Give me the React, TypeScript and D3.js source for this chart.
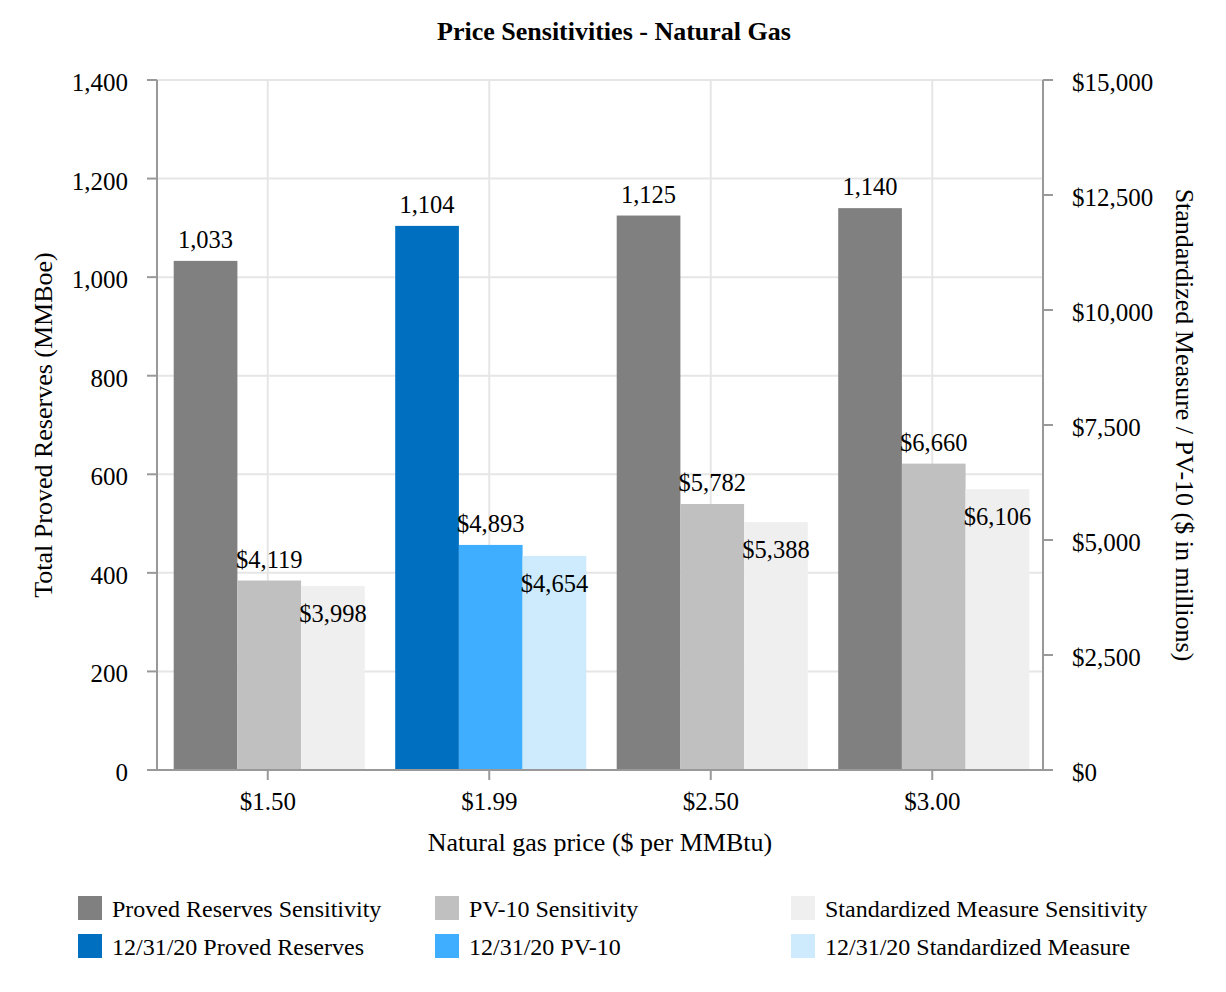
import React from "react";
import * as d3 from "d3";

const categories = ["$1.50", "$1.99", "$2.50", "$3.00"];
const provedReserves = [1033, 1104, 1125, 1140];
const pv10 = [4119, 4893, 5782, 6660];
const standardized = [3998, 4654, 5388, 6106];
const currentIndex = 1; // the 12/31/20 case
const leftTicks = [0, 200, 400, 600, 800, 1000, 1200, 1400];
const rightTicks = [0, 2500, 5000, 7500, 10000, 12500, 15000];

const legendItems = [
  { label: "Proved Reserves Sensitivity", color: "#808080" },
  { label: "PV-10 Sensitivity", color: "#c0c0c0" },
  { label: "Standardized Measure Sensitivity", color: "#efefef" },
  { label: "12/31/20 Proved Reserves", color: "#006fc0" },
  { label: "12/31/20 PV-10", color: "#40aefe" },
  { label: "12/31/20 Standardized Measure", color: "#cdebfc" },
];

const W = 1226;
const H = 992;
const M = { left: 157, right: 1043, top: 80, bottom: 770 };
const FONT = "'Liberation Serif', 'Times New Roman', serif";

export default function App() {
  const x = d3.scaleBand<string>().domain(categories).range([M.left, M.right]);
  const yL = d3.scaleLinear().domain([0, 1400]).range([M.bottom, M.top]);
  const yR = d3.scaleLinear().domain([0, 15000]).range([M.bottom, M.top]);
  const bw = 63.7;
  const fmtN = d3.format(",");
  const fmtD = (v: number) => "$" + d3.format(",")(v);

  const series = [
    { values: provedReserves, scale: yL, fmt: fmtN, colors: ["#808080", "#006fc0"], place: "above" },
    { values: pv10, scale: yR, fmt: fmtD, colors: ["#c0c0c0", "#40aefe"], place: "above" },
    { values: standardized, scale: yR, fmt: fmtD, colors: ["#efefef", "#cdebfc"], place: "inside" },
  ];

  const legendCols = [78, 435, 791];
  const legendRows = [908, 946];

  return (
    <svg width={W} height={H} style={{ display: "block", position: "absolute", left: 0, top: 0 }} fontFamily={FONT}>
      <rect width={W} height={H} fill="#fff" />
      <text x={614} y={40} textAnchor="middle" fontWeight="bold" fontSize={26}>
        Price Sensitivities - Natural Gas
      </text>
      {/* gridlines */}
      {leftTicks.map((t) => (
        <line key={"g" + t} x1={M.left} x2={M.right} y1={yL(t)} y2={yL(t)} stroke="#e6e6e6" strokeWidth={2} />
      ))}
      {categories.map((c) => (
        <line key={"v" + c} x1={x(c)! + x.bandwidth() / 2} x2={x(c)! + x.bandwidth() / 2} y1={M.top} y2={M.bottom} stroke="#e6e6e6" strokeWidth={2} />
      ))}
      {/* bars */}
      {series.map((s, si) =>
        s.values.map((v, ci) => {
          const cx = x(categories[ci])! + x.bandwidth() / 2 + 1.5;
          const x0 = cx - 1.5 * bw + si * bw;
          const y = s.scale(v);
          return (
            <rect key={si + "-" + ci} x={x0} y={y} width={bw} height={M.bottom - y}
              fill={s.colors[ci === currentIndex ? 1 : 0]} />
          );
        })
      )}
      {/* labels */}
      {series.map((s, si) =>
        s.values.map((v, ci) => {
          const cx = x(categories[ci])! + x.bandwidth() / 2 + 1.5;
          const lx = cx - 1.5 * bw + si * bw + bw / 2;
          const y = s.scale(v);
          const ly = s.place === "above" ? y - 13 : y + 36;
          return (
            <text key={"l" + si + "-" + ci} x={lx} y={ly} textAnchor="middle" fontSize={24.5}>
              {s.fmt(v)}
            </text>
          );
        })
      )}
      {/* axes */}
      <line x1={M.left} x2={M.left} y1={M.top} y2={M.bottom} stroke="#999" strokeWidth={2} />
      <line x1={M.right} x2={M.right} y1={M.top} y2={M.bottom} stroke="#999" strokeWidth={2} />
      <line x1={M.left - 10} x2={M.right + 10} y1={M.bottom} y2={M.bottom} stroke="#999" strokeWidth={2} />
      {leftTicks.map((t) => (
        <g key={"lt" + t}>
          <line x1={M.left - 10} x2={M.left} y1={yL(t)} y2={yL(t)} stroke="#999" strokeWidth={2} />
          <text x={128} y={yL(t) + 11} textAnchor="end" fontSize={25}>{fmtN(t)}</text>
        </g>
      ))}
      {rightTicks.map((t) => (
        <g key={"rt" + t}>
          <line x1={M.right} x2={M.right + 10} y1={yR(t)} y2={yR(t)} stroke="#999" strokeWidth={2} />
          <text x={1072} y={yR(t) + 11} textAnchor="start" fontSize={25}>{fmtD(t)}</text>
        </g>
      ))}
      {categories.map((c) => (
        <g key={"ct" + c}>
          <line x1={x(c)! + x.bandwidth() / 2} x2={x(c)! + x.bandwidth() / 2} y1={M.bottom} y2={M.bottom + 10} stroke="#999" strokeWidth={2} />
          <text x={x(c)! + x.bandwidth() / 2} y={810} textAnchor="middle" fontSize={25}>{c}</text>
        </g>
      ))}
      <text x={600} y={851} textAnchor="middle" fontSize={26}>Natural gas price ($ per MMBtu)</text>
      <text transform="translate(52,425) rotate(-90)" textAnchor="middle" fontSize={26}>Total Proved Reserves (MMBoe)</text>
      <text transform="translate(1176,425) rotate(90)" textAnchor="middle" fontSize={26}>Standardized Measure / PV-10 ($ in millions)</text>
      {/* legend */}
      {legendItems.map((it, i) => {
        const col = i % 3;
        const row = Math.floor(i / 3);
        const lx = legendCols[col];
        const ly = legendRows[row];
        return (
          <g key={"lg" + i}>
            <rect x={lx} y={ly - 12} width={24} height={24} fill={it.color} />
            <text x={lx + 34} y={ly + 9} fontSize={24}>{it.label}</text>
          </g>
        );
      })}
    </svg>
  );
}
